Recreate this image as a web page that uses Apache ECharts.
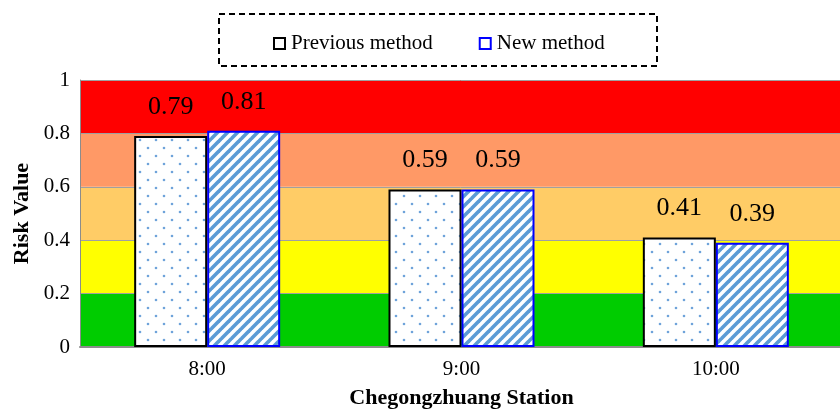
<!DOCTYPE html>
<html>
<head>
<meta charset="utf-8">
<script src="https://cdn.jsdelivr.net/npm/echarts@6/dist/echarts.min.js"></script>
<style>html,body{margin:0;padding:0;background:#fff}#c{width:840px;height:410px}</style>
</head>
<body>
<div id="c"></div>
<script>
const categories = ['8:00', '9:00', '10:00'];
const previousMethod = [0.79, 0.59, 0.41];
const newMethod = [0.81, 0.59, 0.39];
const seriesNames = ['Previous method', 'New method'];
const bandColors = ['#00CC00', '#FFFF00', '#FFCC66', '#FF9966', '#FF0000'];

function dotPattern() {
  const c = document.createElement('canvas');
  c.width = 16; c.height = 16;
  const g = c.getContext('2d');
  g.fillStyle = '#ffffff'; g.fillRect(0, 0, 16, 16);
  g.fillStyle = '#6fa3da';
  g.beginPath(); g.arc(4, 4, 1.3, 0, Math.PI * 2); g.fill();
  g.beginPath(); g.arc(12, 12, 1.3, 0, Math.PI * 2); g.fill();
  return c;
}
function stripePattern() {
  const s = 10;
  const c = document.createElement('canvas');
  c.width = s; c.height = s;
  const g = c.getContext('2d');
  g.fillStyle = '#ffffff'; g.fillRect(0, 0, s, s);
  g.strokeStyle = '#5b9bd5'; g.lineWidth = 3.6;
  for (let k = -1; k <= 1; k++) {
    g.beginPath();
    g.moveTo(k * s - 1, s + 1);
    g.lineTo(k * s + s + 1, -1);
    g.stroke();
  }
  return c;
}

const chart = echarts.init(document.getElementById('c'), null, {renderer: 'canvas'});
const serif = '"Liberation Serif", "Times New Roman", serif';
chart.setOption({
  animation: false,
  backgroundColor: '#ffffff',
  textStyle: {fontFamily: serif},
  graphic: [{
    type: 'rect', left: 218, top: 13,
    shape: {width: 438, height: 52},
    style: {fill: '#fff', stroke: '#000', lineWidth: 2, lineDash: [6, 4]},
    z: 0
  }],
  legend: {
    top: 28, left: 268,
    itemGap: 46, itemWidth: 11, itemHeight: 11, icon: 'rect',
    textStyle: {fontFamily: serif, fontSize: 21, color: '#000', padding: [0, 0, 0, 1]},
    data: [
      {name: seriesNames[0], itemStyle: {color: '#fff', borderColor: '#000', borderWidth: 2}},
      {name: seriesNames[1], itemStyle: {color: '#fff', borderColor: '#0000ff', borderWidth: 2}}
    ],
    z: 5
  },
  grid: {left: 80, top: 80, width: 763, height: 267, containLabel: false, outerBoundsMode: 'none'},
  xAxis: {
    type: 'category', data: categories,
    axisLine: {lineStyle: {color: '#8c8c8c', width: 2}},
    axisTick: {show: false},
    axisLabel: {fontFamily: serif, fontSize: 21, color: '#000', margin: 12},
    name: 'Chegongzhuang Station', nameLocation: 'middle', nameGap: 40,
    nameTextStyle: {fontFamily: serif, fontSize: 22, fontWeight: 'bold', color: '#000'}
  },
  yAxis: {
    type: 'value', min: 0, max: 1, interval: 0.2,
    axisLine: {show: true, lineStyle: {color: '#8c8c8c', width: 1}},
    axisTick: {show: false},
    axisLabel: {fontFamily: serif, fontSize: 21, color: '#000', margin: 10},
    splitLine: {show: true, lineStyle: {color: '#a0a0a0', width: 1}},
    splitArea: {show: true, areaStyle: {color: bandColors, opacity: 1}},
    name: 'Risk Value', nameLocation: 'middle', nameGap: 40,
    nameTextStyle: {fontFamily: serif, fontSize: 22, fontWeight: 'bold', color: '#000'}
  },
  series: [
    {
      name: seriesNames[0], type: 'bar', data: previousMethod,
      barWidth: 73, barGap: '0%',
      itemStyle: {color: {image: dotPattern(), repeat: 'repeat'}, borderColor: '#000', borderWidth: 2},
      label: {show: true, position: 'top', distance: 16, fontFamily: serif, fontSize: 26, color: '#000',
        formatter: p => p.value.toFixed(2)}
    },
    {
      name: seriesNames[1], type: 'bar', data: newMethod,
      barWidth: 73, barGap: '0%',
      itemStyle: {color: {image: stripePattern(), repeat: 'repeat'}, borderColor: '#0000ff', borderWidth: 2},
      label: {show: true, position: 'top', distance: 16, fontFamily: serif, fontSize: 26, color: '#000',
        formatter: p => p.value.toFixed(2)}
    }
  ]
});
</script>
</body>
</html>
